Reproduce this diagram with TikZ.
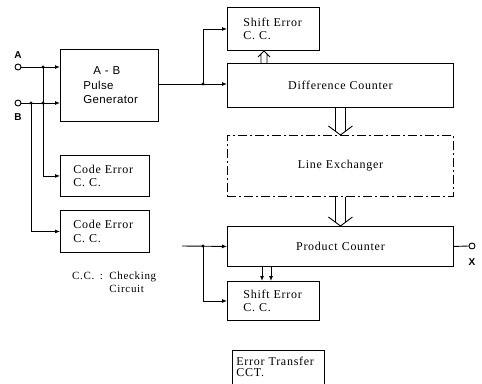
\documentclass[tikz,border=0pt]{standalone}
\usepackage{fontspec}
\setmainfont{Liberation Serif}[LetterSpace=6,WordSpace=1.6]
\setsansfont{Liberation Sans}[LetterSpace=3]
\usetikzlibrary{arrows.meta,calc}

% wide two-line arrow with an open V head:
% #1 start, #2 tip, #3 half gap, #4 head half width, #5 signed arm offset
\newcommand\hollowarrow[5]{%
  \draw[wire] ($#1+(-#3,0)$) -- ($#2+(-#3,{#5*#3/#4})$)
              ($#1+(#3,0)$) -- ($#2+(#3,{#5*#3/#4})$)
              ($#2+(-#4,#5)$) -- #2 -- ($#2+(#4,#5)$);}

\tikzset{
  blk/.style={draw, line width=0.9pt, anchor=north west, inner ysep=0pt,
    align=left, font=\fontsize{12}{13.5}\selectfont},
  wire/.style={line width=0.9pt},
  feed/.style={wire, -{Latex[length=5pt,width=4pt]}},
  jdot/.style={circle, fill, inner sep=0pt, minimum size=3.2pt},
  term/.style={circle, draw, line width=0.9pt, fill=white, inner sep=0pt, minimum size=6pt},
  pinlabel/.style={font=\sffamily\bfseries\fontsize{10}{10}\selectfont},
}

\begin{document}
\begin{tikzpicture}[x=1pt,y=-1pt]
\useasboundingbox (0,0) rectangle (482,383);

% blocks
\node[blk, minimum width=98pt, minimum height=72pt, inner xsep=23pt, text width=52pt,
  font=\sffamily\fontsize{11.5}{14.5}\selectfont]
  (pg) at (60,49) {\hspace*{10pt}A - B\\Pulse\\Generator};
\node[blk, minimum width=92pt, minimum height=43pt, inner xsep=16pt, text width=60pt]
  (se1) at (227,7) {Shift Error\\C. C.};
\node[blk, minimum width=226pt, minimum height=44pt, inner xsep=16pt, text width=194pt, align=center]
  (dc) at (227,63) {Difference Counter};
\node[blk, minimum width=226pt, minimum height=61pt, inner xsep=16pt, text width=194pt, align=center,
  dash pattern=on 9pt off 3pt on 2pt off 3pt]
  (le) at (227,135) {Line Exchanger};
\node[blk, minimum width=226pt, minimum height=40pt, inner xsep=16pt, text width=194pt, align=center]
  (pc) at (227,226) {Product Counter};
\node[blk, minimum width=92pt, minimum height=39pt, inner xsep=16pt, text width=60pt]
  (se2) at (227,281) {Shift Error\\C. C.};
\node[blk, minimum width=89pt, minimum height=41pt, inner xsep=13pt, text width=63pt]
  (ce1) at (60,155) {Code Error\\C. C.};
\node[blk, minimum width=89pt, minimum height=42pt, inner xsep=13pt, text width=63pt]
  (ce2) at (60,210) {Code Error\\C. C.};
\node[blk, draw=none, minimum width=92pt, minimum height=33pt, inner xsep=4pt, text width=84pt,
  font=\fontsize{12}{11}\selectfont]
  (et) at (232,350) {Error Transfer\\CCT.};
\draw[wire] (et.south west) |- (et.north east) -- (et.south east);

% legend
\node[anchor=north west, align=left, inner sep=0pt, font=\fontsize{11}{13}\selectfont]
  (note) at (72,272) {C.C. : Checking\\\phantom{C.C. : }Circuit};

% terminals
\node[term] (ta) at (18,67) {};
\node[term] (tb) at (18,103) {};
\node[term] (tx) at (472,246) {};
\node[pinlabel] (la) at (18,55) {A};
\node[pinlabel] (lb) at (18,117) {B};
\node[pinlabel] (lx) at (472,262) {X};

% junctions
\coordinate (ja) at (43,67);
\coordinate (jb1) at (31,103);
\coordinate (jb2) at (43,103);
\coordinate (jp) at (203,84);
\coordinate (pcin) at (182,246);
\coordinate (jq) at (203,246);

% inputs A and B
\draw[feed] (ta.east) -- (ta -| pg.west);
\draw[feed] (tb.east) -- (tb -| pg.west);
\draw[feed] (ja) |- (ce1.west);
\draw[feed] (jb1) |- (ce2.west);

% pulse generator output
\draw[wire] (jp -| pg.east) -- (jp);
\draw[feed] (jp) -- (jp -| dc.west);
\draw[feed] (jp) |- (se1.west);

% product counter input and output
\draw[feed] (pcin) -- (pc.west);
\draw[feed] (jq) |- (se2.west);
\draw[wire] (pc.east) -- (tx.west);
\draw[feed] ($(pc.south west)+(35,0)$) -- ($(se2.north west)+(35,0)$);
\draw[feed] ($(pc.south west)+(44,0)$) -- ($(se2.north west)+(44,0)$);

% data transfers between counters
\hollowarrow{(dc.south)}{(le.north)}{5}{12}{-9}
\hollowarrow{(le.south)}{(pc.north)}{5}{12}{-9}
\hollowarrow{($(dc.north west)+(37,0)$)}{($(se1.south west)+(37,0)$)}{3}{6}{6}

% junction dots
\foreach \j in {ja,jb1,jb2,jp,jq} \node[jdot] at (\j) {};
\end{tikzpicture}
\end{document}
